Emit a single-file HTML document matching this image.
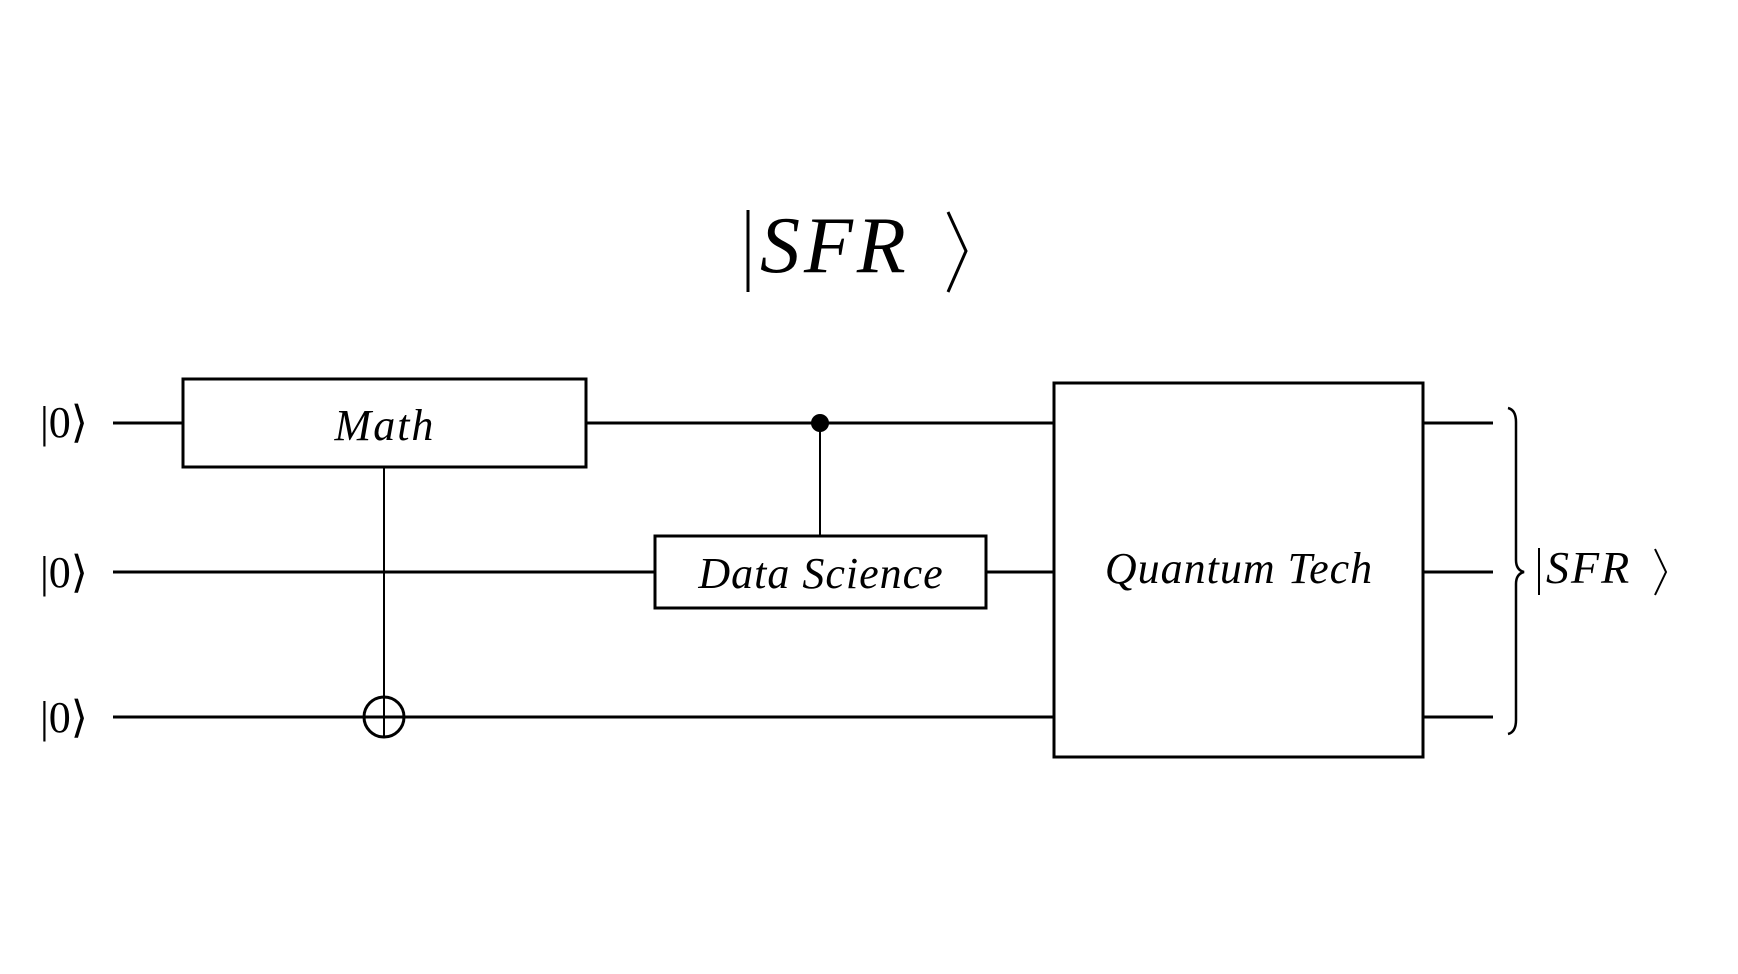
<!DOCTYPE html>
<html><head><meta charset="utf-8"><style>
html,body{margin:0;padding:0;background:#fff;}
svg{display:block;}
text{font-family:"Liberation Serif",serif;fill:#000;}
</style></head><body>
<svg width="1738" height="974" viewBox="0 0 1738 974" xmlns="http://www.w3.org/2000/svg">
<rect width="1738" height="974" fill="#fff"/>
<!-- title -->
<line x1="748" y1="210" x2="748" y2="292" stroke="#000" stroke-width="3"/>
<text x="760" y="272" font-size="80" font-style="italic" letter-spacing="4">SFR</text>
<polyline points="948,212 966,251 948,292" fill="none" stroke="#000" stroke-width="3"/>
<!-- input labels -->
<g font-size="44">
<text x="40" y="437">|0⟩</text>
<text x="40" y="587">|0⟩</text>
<text x="40" y="732">|0⟩</text>
</g>
<g stroke="#000" stroke-width="3" fill="none">
<!-- wires -->
<line x1="113" y1="423" x2="183" y2="423"/>
<line x1="586" y1="423" x2="1054" y2="423"/>
<line x1="113" y1="572" x2="655" y2="572"/>
<line x1="986" y1="572" x2="1054" y2="572"/>
<line x1="113" y1="717" x2="1054" y2="717"/>
<line x1="1423" y1="423" x2="1493" y2="423"/>
<line x1="1423" y1="572" x2="1493" y2="572"/>
<line x1="1423" y1="717" x2="1493" y2="717"/>
<!-- boxes -->
<rect x="183" y="379" width="403" height="88" fill="#fff"/>
<rect x="655" y="536" width="331" height="72" fill="#fff"/>
<rect x="1054" y="383" width="369" height="374" fill="#fff"/>
<!-- controls -->
<line x1="384" y1="467" x2="384" y2="738" stroke-width="2"/>
<circle cx="384" cy="717" r="20"/>
<line x1="820" y1="423" x2="820" y2="536" stroke-width="2"/>
<!-- brace -->
<path d="M1508,408 Q1516,410 1516,422 L1516,560 Q1516,570 1524,572 Q1516,574 1516,584 L1516,720 Q1516,732 1508,734" stroke-width="2.5"/>
</g>
<circle cx="820" cy="423" r="9" fill="#000"/>
<!-- gate labels -->
<g font-size="44" font-style="italic" text-anchor="middle">
<text x="385" y="440" letter-spacing="2">Math</text>
<text x="821" y="588" letter-spacing="1">Data Science</text>
<text x="1239" y="583" letter-spacing="1">Quantum Tech</text>
</g>
<!-- output label -->
<line x1="1539" y1="548" x2="1539" y2="595" stroke="#000" stroke-width="2"/>
<text x="1546" y="583" font-size="46" font-style="italic" letter-spacing="2">SFR</text>
<polyline points="1655,549 1666,572 1655,595" fill="none" stroke="#000" stroke-width="2"/>
</svg>
</body></html>
